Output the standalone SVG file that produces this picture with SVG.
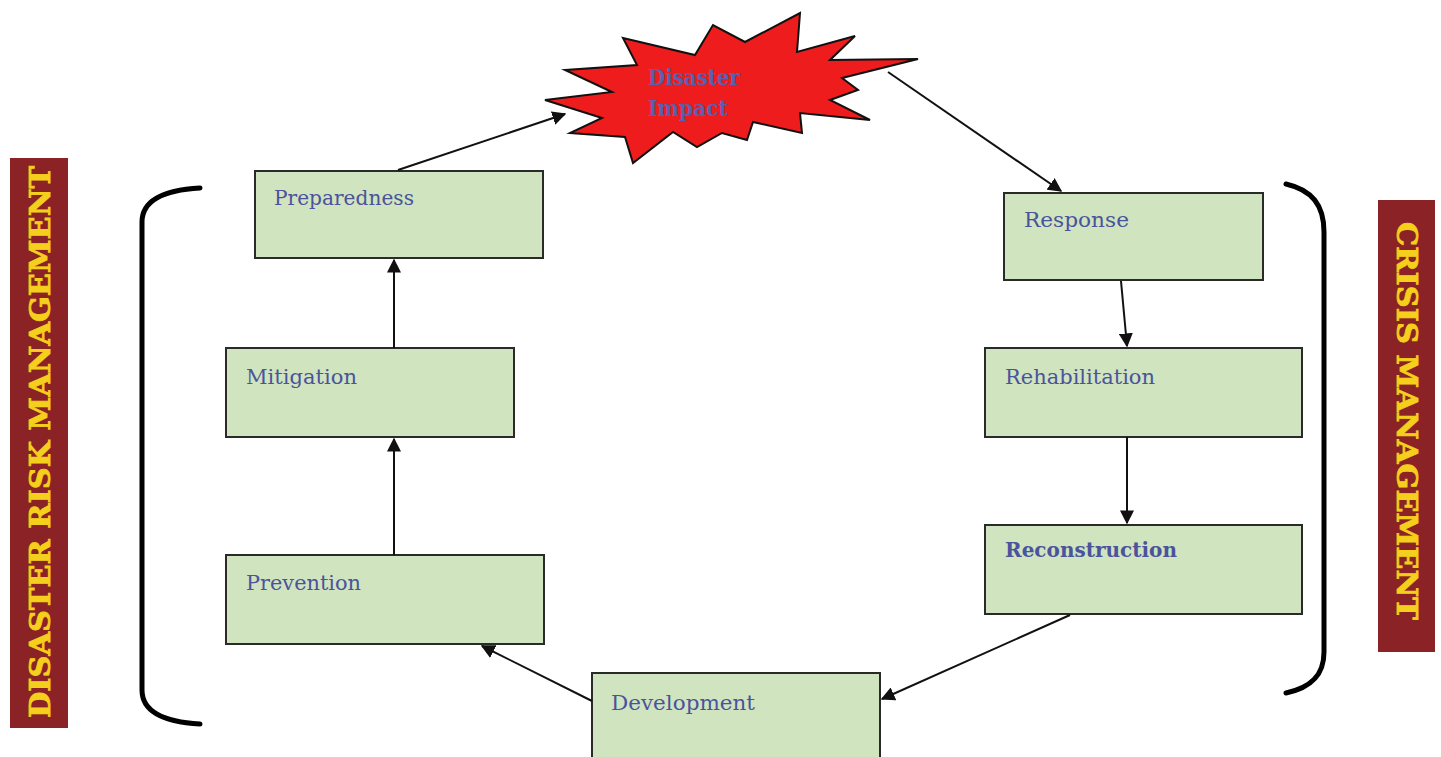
<svg xmlns="http://www.w3.org/2000/svg" width="1441" height="757" viewBox="0 0 1441 757">
<style>
.box{fill:#cfe4bf;stroke:#2a2a2a;stroke-width:2}
.lbl{font-family:"DejaVu Serif","Liberation Serif",serif;font-size:21px;fill:#4b539c}
.conn{stroke:#111;stroke-width:2;fill:none;marker-end:url(#ah)}
.brk{stroke:#000;stroke-width:5;fill:none;stroke-linecap:round}
.band{fill:#8b2226}
.bandtxt{font-family:"DejaVu Serif","Liberation Serif",serif;font-weight:bold;font-size:27px;fill:#f4cf1c;stroke:#f4cf1c;stroke-width:0.8}
</style>
<defs>
<marker id="ah" viewBox="0 0 10 10" refX="9" refY="5" markerWidth="7" markerHeight="7" orient="auto" markerUnits="strokeWidth">
<path d="M0,0 L10,5 L0,10 z" fill="#111"/>
</marker>
</defs>
<rect width="1441" height="757" fill="#ffffff"/>

<g id="label-drm">
<rect class="band" x="10" y="158" width="58" height="570"/>
<text class="bandtxt" transform="translate(40,442) rotate(-90)" text-anchor="middle" dominant-baseline="central" textLength="552" lengthAdjust="spacingAndGlyphs">DISASTER RISK MANAGEMENT</text>
</g>
<g id="label-cm">
<rect class="band" x="1378" y="200" width="57" height="452"/>
<text class="bandtxt" transform="translate(1406,421) rotate(90)" text-anchor="middle" dominant-baseline="central" textLength="398" lengthAdjust="spacingAndGlyphs">CRISIS MANAGEMENT</text>
</g>

<g id="brackets">
<path class="brk" d="M200,188 C165,190 142,200 142,222 L142,690 C142,712 165,722 200,724"/>
<path class="brk" d="M1286,184 C1312,190 1324,205 1324,232 L1324,652 C1324,676 1310,688 1286,693"/>
</g>

<g id="disaster-impact">
<polygon points="545,100 612,92 565,70 637,65 623,38 695,55 713,25 745,42 800,13 797,52 855,36 830,60 918,59 842,78 858,90 830,100 870,120 800,113 802,133 753,122 747,140 722,133 697,147 673,132 633,163 625,137 570,133 602,118" fill="#ee1c1c" stroke="#111" stroke-width="2" stroke-linejoin="miter"/>
<text class="lbl" x="648" y="85" font-weight="bold" font-size="23" textLength="92" lengthAdjust="spacingAndGlyphs" style="fill:#5a5fb0;font-size:23px">Disaster</text>
<text class="lbl" x="648" y="116" font-weight="bold" textLength="80" lengthAdjust="spacingAndGlyphs" style="fill:#5a5fb0;font-size:23px">Impact</text>
</g>

<g id="preparedness">
<rect class="box" x="255" y="171" width="288" height="87"/>
<text class="lbl" x="274" y="205" textLength="140" lengthAdjust="spacingAndGlyphs">Preparedness</text>
</g>
<g id="mitigation">
<rect class="box" x="226" y="348" width="288" height="89"/>
<text class="lbl" x="246" y="384" textLength="111" lengthAdjust="spacingAndGlyphs">Mitigation</text>
</g>
<g id="prevention">
<rect class="box" x="226" y="555" width="318" height="89"/>
<text class="lbl" x="246" y="590" textLength="115" lengthAdjust="spacingAndGlyphs">Prevention</text>
</g>
<g id="response">
<rect class="box" x="1004" y="193" width="259" height="87"/>
<text class="lbl" x="1024" y="227" textLength="105" lengthAdjust="spacingAndGlyphs">Response</text>
</g>
<g id="rehabilitation">
<rect class="box" x="985" y="348" width="317" height="89"/>
<text class="lbl" x="1005" y="384" textLength="150" lengthAdjust="spacingAndGlyphs">Rehabilitation</text>
</g>
<g id="reconstruction">
<rect class="box" x="985" y="525" width="317" height="89"/>
<text class="lbl" x="1005" y="557" font-weight="bold" textLength="172" lengthAdjust="spacingAndGlyphs">Reconstruction</text>
</g>
<g id="development">
<rect class="box" x="592" y="673" width="288" height="100"/>
<text class="lbl" x="611" y="710" textLength="144" lengthAdjust="spacingAndGlyphs">Development</text>
</g>

<g id="connectors">
<line class="conn" x1="398" y1="170" x2="565" y2="114"/>
<line class="conn" x1="888" y1="72" x2="1061" y2="191"/>
<line class="conn" x1="394" y1="348" x2="394" y2="260"/>
<line class="conn" x1="394" y1="555" x2="394" y2="439"/>
<line class="conn" x1="1121" y1="281" x2="1127" y2="346"/>
<line class="conn" x1="1127" y1="437" x2="1127" y2="523"/>
<line class="conn" x1="1070" y1="615" x2="882" y2="699"/>
<line class="conn" x1="592" y1="701" x2="482" y2="646"/>
</g>
</svg>
